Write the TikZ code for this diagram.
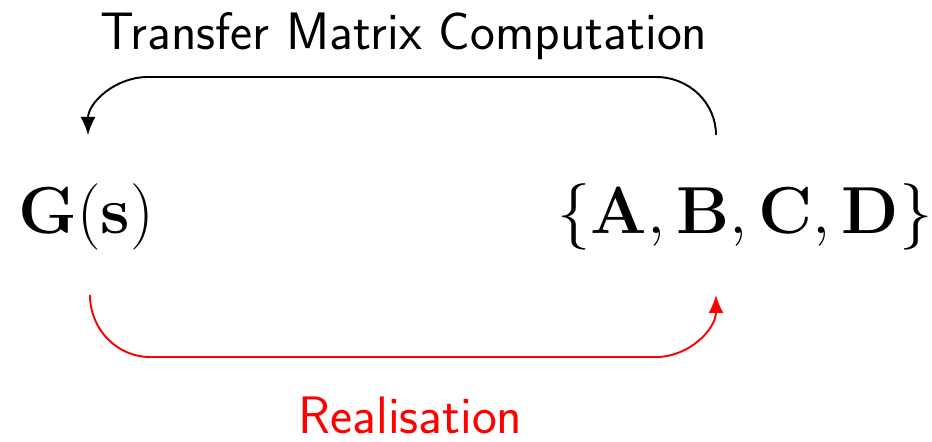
\documentclass[tikz,border=0pt]{standalone}
\usepackage{amsmath}
\usepackage{amssymb}
\usetikzlibrary{arrows.meta}

\newcommand{\bigmath}[1]{\scalebox{1.52}{$#1$}}

\begin{document}
\begin{tikzpicture}[
  loop arrow/.style={line width=1.1pt,-{Latex[length=0.36cm,width=0.3cm]}},
  big math/.style={font=\Huge,anchor=base,inner sep=0pt},
  arrow label/.style={font=\fontsize{30}{36}\sffamily,anchor=base,inner sep=0pt}
]
\useasboundingbox (0,0) rectangle (18.64,8.84);

\node[big math] (gs) at (1.72,4.16) {\bigmath{\mathbf{G}(\mathbf{s})}};
\node[big math] (abcd) at (14.9,4.16) {\bigmath{\{\mathbf{A},\mathbf{B},\mathbf{C},\mathbf{D}\}}};

\coordinate (gs top) at (1.76,6.14);
\coordinate (gs bot) at (1.8,2.94);
\coordinate (abcd top) at (14.32,6.14);
\coordinate (abcd bot) at (14.32,2.94);

\draw[loop arrow] (abcd top) arc[start angle=0,end angle=90,x radius=1.2cm,y radius=1.16cm]
  -- ([xshift=1.2cm,yshift=1.16cm]gs top)
  arc[start angle=90,end angle=180,x radius=1.2cm,y radius=1.16cm];
\draw[loop arrow,red] (gs bot) arc[start angle=180,end angle=270,x radius=1.2cm,y radius=1.24cm]
  -- ([xshift=-1.2cm,yshift=-1.24cm]abcd bot)
  arc[start angle=270,end angle=360,x radius=1.2cm,y radius=1.24cm];

\node[arrow label] (tmc) at (8.08,7.84) {Transfer Matrix Computation};
\node[arrow label,red] (real) at (8.21,0.16) {Realisation};
\end{tikzpicture}
\end{document}
